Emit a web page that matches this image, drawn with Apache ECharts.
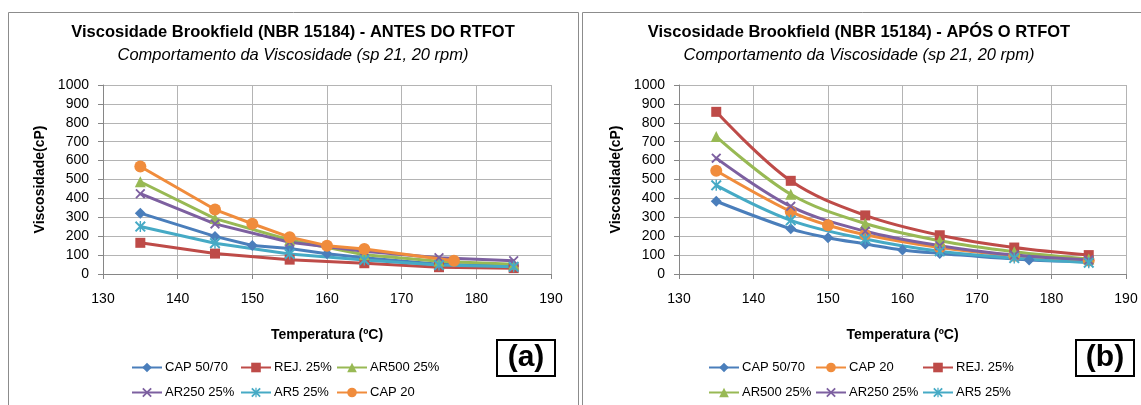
<!DOCTYPE html>
<html><head><meta charset="utf-8">
<script src="https://cdn.jsdelivr.net/npm/echarts@6/dist/echarts.min.js"></script>
<style>html,body{margin:0;padding:0;background:#fff}#c{width:1141px;height:405px}</style>
</head><body><div id="c"></div>
<script>
// ---------- data: (a) ANTES DO RTFOT ----------
const antesCap5070T = [135,145,150,155,160,165,175,185];
const antesCap5070V = [322,199,151,135,107,86,52,42];
const antesRejT = [135,145,155,165,175,185];
const antesRejV = [165,108,76,57,36,31];
const antesAr500T = [135,145,155,165,175,185];
const antesAr500V = [488,293,180,102,68,52];
const antesAr250T = [135,145,155,165,175,185];
const antesAr250V = [425,265,168,120,86,70];
const antesAr5T = [135,145,155,165,175,185];
const antesAr5V = [251,163,106,74,47,38];
const antesCap20T = [135,145,150,155,160,165,177];
const antesCap20V = [569,341,266,195,150,132,70];
// ---------- data: (b) APÓS O RTFOT ----------
const aposCap5070T = [135,145,150,155,160,165,177,185];
const aposCap5070V = [385,239,192,159,127,109,74,66];
const aposCap20T = [135,145,150,155,165,175,185];
const aposCap20V = [546,330,258,208,140,97,72];
const aposRejT = [135,145,155,165,175,185];
const aposRejV = [858,493,310,205,140,100];
const aposAr500T = [135,145,155,165,175,185];
const aposAr500V = [727,422,267,176,118,80];
const aposAr250T = [135,145,155,165,175,185];
const aposAr250V = [613,358,226,150,100,74];
const aposAr5T = [135,145,155,165,175,185];
const aposAr5V = [469,284,185,120,84,60];
// ---------- labels ----------
const titleA = 'Viscosidade Brookfield (NBR 15184) - ANTES DO RTFOT';
const titleB = 'Viscosidade Brookfield (NBR 15184) - APÓS O RTFOT';
const subtitle = 'Comportamento da Viscosidade (sp 21, 20 rpm)';
const yName = 'Viscosidade(cP)';
const xName = 'Temperatura (ºC)';
const legendA = ['CAP 50/70','REJ. 25%','AR500 25%','AR250 25%','AR5 25%','CAP 20'];
const legendB = ['CAP 50/70','CAP 20','REJ. 25%','AR500 25%','AR250 25%','AR5 25%'];

const FONT = '"Liberation Sans", Arial, sans-serif';
const X_PATH = 'path://M0,1.3L1.3,0L5,3.7L8.7,0L10,1.3L6.3,5L10,8.7L8.7,10L5,6.3L1.3,10L0,8.7L3.7,5Z';
const STAR_PATH = 'path://M0,1.3L1.3,0L5,3.7L8.7,0L10,1.3L6.3,5L10,8.7L8.7,10L5,6.3L1.3,10L0,8.7L3.7,5ZM4.35,0L5.65,0L5.65,10L4.35,10Z';
const style = {
  'CAP 50/70': {color:'#4A7EBB', symbol:'diamond', size:11},
  'REJ. 25%': {color:'#BE4B48', symbol:'rect', size:10},
  'AR500 25%': {color:'#98B954', symbol:'triangle', size:11},
  'AR250 25%': {color:'#7D60A0', symbol:X_PATH, size:10},
  'AR5 25%': {color:'#46AAC5', symbol:STAR_PATH, size:11},
  'CAP 20': {color:'#F08C3C', symbol:'circle', size:12}
};
function zip(t, v){ return t.map((x,i)=>[x, v[i]]); }
function mk(name, t, v, idx, smooth){
  const s = style[name];
  return {
    name, type:'line', xAxisIndex:idx, yAxisIndex:idx, data:zip(t,v),
    smooth: smooth, symbol:s.symbol, symbolSize:s.size, showSymbol:true,
    lineStyle:{color:s.color, width:3},
    itemStyle:{color:s.color, borderWidth:0},
    emphasis:{disabled:true}, z: 3
  };
}
const series = [
  mk('CAP 50/70', antesCap5070T, antesCap5070V, 0, false),
  mk('REJ. 25%', antesRejT, antesRejV, 0, false),
  mk('AR500 25%', antesAr500T, antesAr500V, 0, false),
  mk('AR250 25%', antesAr250T, antesAr250V, 0, false),
  mk('AR5 25%', antesAr5T, antesAr5V, 0, false),
  mk('CAP 20', antesCap20T, antesCap20V, 0, false),
  mk('CAP 50/70', aposCap5070T, aposCap5070V, 1, 0.35),
  mk('CAP 20', aposCap20T, aposCap20V, 1, 0.35),
  mk('REJ. 25%', aposRejT, aposRejV, 1, 0.35),
  mk('AR500 25%', aposAr500T, aposAr500V, 1, 0.35),
  mk('AR250 25%', aposAr250T, aposAr250V, 1, 0.35),
  mk('AR5 25%', aposAr5T, aposAr5V, 1, 0.35)
];
function xAx(idx){
  return {
    type:'value', gridIndex:idx, min:130, max:190, interval:10,
    name:xName, nameLocation:'middle', nameGap:54,
    nameTextStyle:{fontFamily:FONT, fontSize:14, fontWeight:'bold', color:'#000'},
    axisLine:{show:true, onZero:false, lineStyle:{color:'#868686', width:1}},
    axisTick:{show:true, inside:false, length:5, lineStyle:{color:'#868686'}},
    axisLabel:{fontFamily:FONT, fontSize:14, color:'#000', margin:18, formatter:v=>String(v)},
    splitLine:{show:true, lineStyle:{color:'#B4B4B4', width:1}}
  };
}
function yAx(idx){
  return {
    type:'value', gridIndex:idx, min:0, max:1000, interval:100,
    name:yName, nameLocation:'middle', nameGap:56,
    nameTextStyle:{fontFamily:FONT, fontSize:14, fontWeight:'bold', color:'#000'},
    axisLine:{show:true, lineStyle:{color:'#868686', width:1}},
    axisTick:{show:true, inside:false, length:5, lineStyle:{color:'#868686'}},
    axisLabel:{fontFamily:FONT, fontSize:14, color:'#000', margin:14, formatter:v=>String(v)},
    splitLine:{show:true, lineStyle:{color:'#B4B4B4', width:1}}
  };
}
const legendCols = [[131,240,336],[708,815,922]];
const legendRows = [361,386];
const legends = [];
[legendA, legendB].forEach((names, c)=>{
  names.forEach((n,i)=>{
    legends.push({
      data:[n], left:legendCols[c][i%3], top:legendRows[Math.floor(i/3)],
      padding:0, itemWidth:30, itemHeight:12, itemGap:4, selectedMode:false,
      textStyle:{fontFamily:FONT, fontSize:13, color:'#000', padding:[0,0,0,-2]}
    });
  });
});
function txt(x,y,text,font){
  return {type:'text', x, y, silent:true, z:10,
    style:{text, font, fill:'#000', textAlign:'center', textVerticalAlign:'middle'}};
}
const graphic = [
  {type:'rect', shape:{x:8.5,y:12.5,width:570,height:420}, style:{fill:'none', stroke:'#8C8C8C', lineWidth:1}, silent:true, z:-10},
  {type:'rect', shape:{x:582.5,y:12.5,width:600,height:420}, style:{fill:'none', stroke:'#8C8C8C', lineWidth:1}, silent:true, z:-10},
  txt(293, 32, titleA, 'bold 16.5px ' + FONT),
  txt(293, 55, subtitle, 'italic 16.5px ' + FONT),
  txt(859, 32, titleB, 'bold 16.5px ' + FONT),
  txt(859, 55, subtitle, 'italic 16.5px ' + FONT),
  {type:'rect', shape:{x:497,y:340,width:58,height:36}, style:{fill:'#fff', stroke:'#000', lineWidth:2}, silent:true, z:9},
  txt(526, 358, '(a)', 'bold 30px ' + FONT),
  {type:'rect', shape:{x:1076,y:340,width:58,height:36}, style:{fill:'#fff', stroke:'#000', lineWidth:2}, silent:true, z:9},
  txt(1105, 358, '(b)', 'bold 30px ' + FONT)
];
const chart = echarts.init(document.getElementById('c'), null, {renderer:'canvas'});
chart.setOption({
  animation:false,
  backgroundColor:'#fff',
  grid:[
    {left:103, top:85, width:448, height:189, containLabel:false},
    {left:679, top:85, width:447, height:189, containLabel:false}
  ],
  xAxis:[xAx(0), xAx(1)],
  yAxis:[yAx(0), yAx(1)],
  legend:legends,
  series:series,
  graphic:graphic
});
</script></body></html>
